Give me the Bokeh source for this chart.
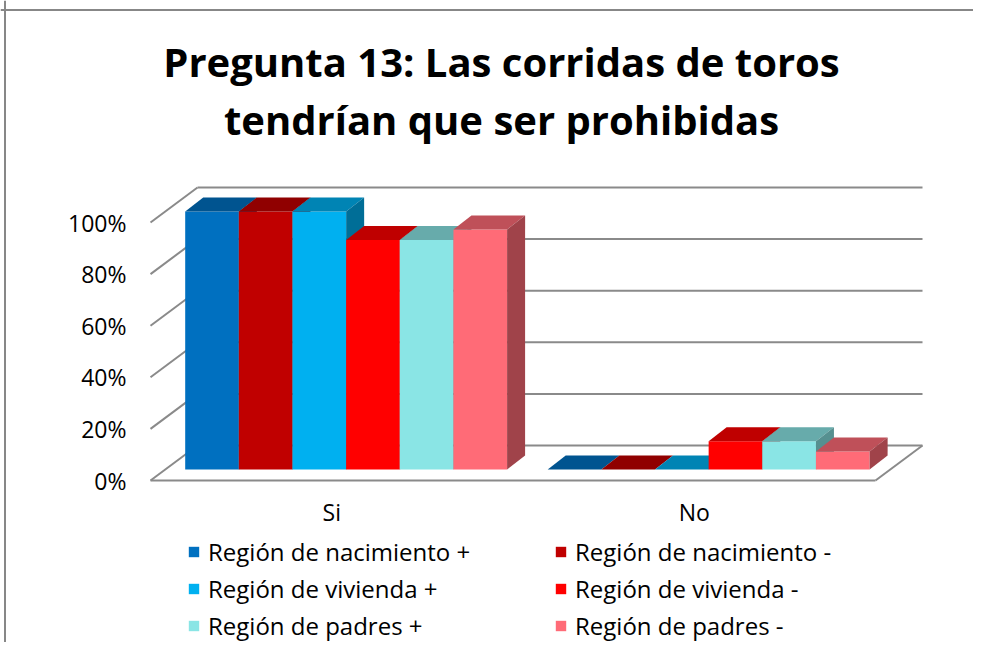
from bokeh.plotting import figure
from bokeh.models import Range1d, Legend, LegendItem, Span
from bokeh.core.properties import value
from bokeh.embed import file_html
from bokeh.resources import INLINE

# ---------------- data ----------------
categories = ["Si", "No"]
series_names = [
    "Región de nacimiento +",
    "Región de nacimiento -",
    "Región de vivienda +",
    "Región de vivienda -",
    "Región de padres +",
    "Región de padres -",
]
nacimiento_pos = [1.00, 0.00]
nacimiento_neg = [1.00, 0.00]
vivienda_pos = [1.00, 0.00]
vivienda_neg = [0.89, 0.11]
padres_pos = [0.89, 0.11]
padres_neg = [0.93, 0.07]
tick_values = [0.0, 0.2, 0.4, 0.6, 0.8, 1.0]
tick_labels = ["0%", "20%", "40%", "60%", "80%", "100%"]
title_lines = ["Pregunta 13: Las corridas de toros", "tendrían que ser prohibidas"]

series_values = [nacimiento_pos, nacimiento_neg, vivienda_pos,
                 vivienda_neg, padres_pos, padres_neg]
front_colors = ["#0070C0", "#C00000", "#00B0F0", "#FF0000", "#8AE5E5", "#FF6B77"]

# ---------------- layout / style constants ----------------
FIG_W, FIG_H = 973, 642
PAGE = 0
PX_X = 362.5          # pixels per category
PX_Y = 258.0          # pixels per 100 %
ORX, ORY = 150.0, 480.0   # screen position of the floor's front-left corner
DX, DY = 47 / PX_X, 35 / PX_Y      # full depth of the 3-D box
F0 = 0.314                          # depth of bar front plane
BDX, BDY = 18 / PX_X, 14 / PX_Y     # bar depth
BAR_START, BAR_W = 0.055, 0.148
GRID = "#8A8A8A"
FONT_NAME = "Open Sans"
FONT = value(FONT_NAME)


def sx(px):
    return (px - ORX) / PX_X


def sy(py):
    return (ORY - py) / PX_Y


def shade(hexcol, f):
    h = hexcol.lstrip("#")
    r, g, b = (int(h[i:i + 2], 16) for i in (0, 2, 4))
    return "#%02x%02x%02x" % (int(r * f), int(g * f), int(b * f))


p = figure(width=FIG_W, height=FIG_H, output_backend="svg", toolbar_location=None,
           x_range=Range1d(sx(PAGE), sx(PAGE + FIG_W)),
           y_range=Range1d(sy(PAGE + FIG_H), sy(PAGE)),
           x_axis_location=None, y_axis_location=None, min_border=0)
p.grid.visible = False
p.outline_line_color = None
p.background_fill_color = "white"
p.border_fill_color = "white"

# chart border (top and left)
p.add_layout(Span(location=sy(9.5), dimension="width", line_color="#878787", line_width=2))
p.add_layout(Span(location=sx(4.5), dimension="height", line_color="#878787", line_width=2))

ncat = len(categories)
# back wall gridlines
p.segment(x0=[DX] * len(tick_values), y0=[t + DY for t in tick_values],
          x1=[ncat + DX] * len(tick_values), y1=[t + DY for t in tick_values],
          line_color=GRID, line_width=2)
# side wall lines
p.segment(x0=[0] * len(tick_values), y0=tick_values,
          x1=[DX] * len(tick_values), y1=[t + DY for t in tick_values],
          line_color=GRID, line_width=2)
# floor front and right edges
p.segment(x0=[0, ncat], y0=[0, 0], x1=[ncat, ncat + DX], y1=[0, DY],
          line_color=GRID, line_width=2)

# bars
ox, oy = F0 * DX, F0 * DY
legend_items = []
for i, (name, vals, col) in enumerate(zip(series_names, series_values, front_colors)):
    left = [c + BAR_START + i * BAR_W + ox for c in range(ncat)]
    right = [l + BAR_W for l in left]
    top = [v + oy for v in vals]
    bottom = [oy] * ncat
    r = p.quad(left=left, right=right, bottom=bottom, top=top,
               fill_color=col, line_color=None)
    p.patches(xs=[[l, rr, rr + BDX, l + BDX] for l, rr in zip(left, right)],
              ys=[[t, t, t + BDY, t + BDY] for t in top],
              fill_color=shade(col, 0.75), line_color=None)
    p.patches(xs=[[rr, rr + BDX, rr + BDX, rr] for rr in right],
              ys=[[b, b + BDY, t + BDY, t] for b, t in zip(bottom, top)],
              fill_color=shade(col, 0.63), line_color=None)
    legend_items.append(LegendItem(label=name, renderers=[r]))

# y tick labels
p.text(x=[sx(126)] * len(tick_values), y=tick_values, text=tick_labels,
       text_font=FONT, text_font_size="23px", text_color="black",
       text_align="right", text_baseline="middle", y_offset=0)
# category labels
p.text(x=[c + 0.5 for c in range(ncat)], y=[sy(511)] * ncat, text=categories,
       text_font=FONT, text_font_size="23px", text_color="black",
       text_align="center", text_baseline="middle")
# title
p.text(x=[sx(501)] * 2, y=[sy(61), sy(119)], text=title_lines,
       text_font=FONT, text_font_size="40px", text_font_style="bold",
       text_color="black", text_align="center", text_baseline="middle")

for items, loc in ((legend_items[0::2], (187, 0)), (legend_items[1::2], (554, 0))):
    lg = Legend(items=items, location=loc, orientation="vertical",
                glyph_width=13, glyph_height=13, label_standoff=8,
                label_text_font=FONT_NAME, label_text_font_size="24px",
                label_text_color="black", label_height=20, spacing=4,
                padding=0, margin=0, border_line_color=None,
                background_fill_alpha=0)
    p.add_layout(lg, "center")

open("out.html", "w").write(file_html(p, INLINE))
